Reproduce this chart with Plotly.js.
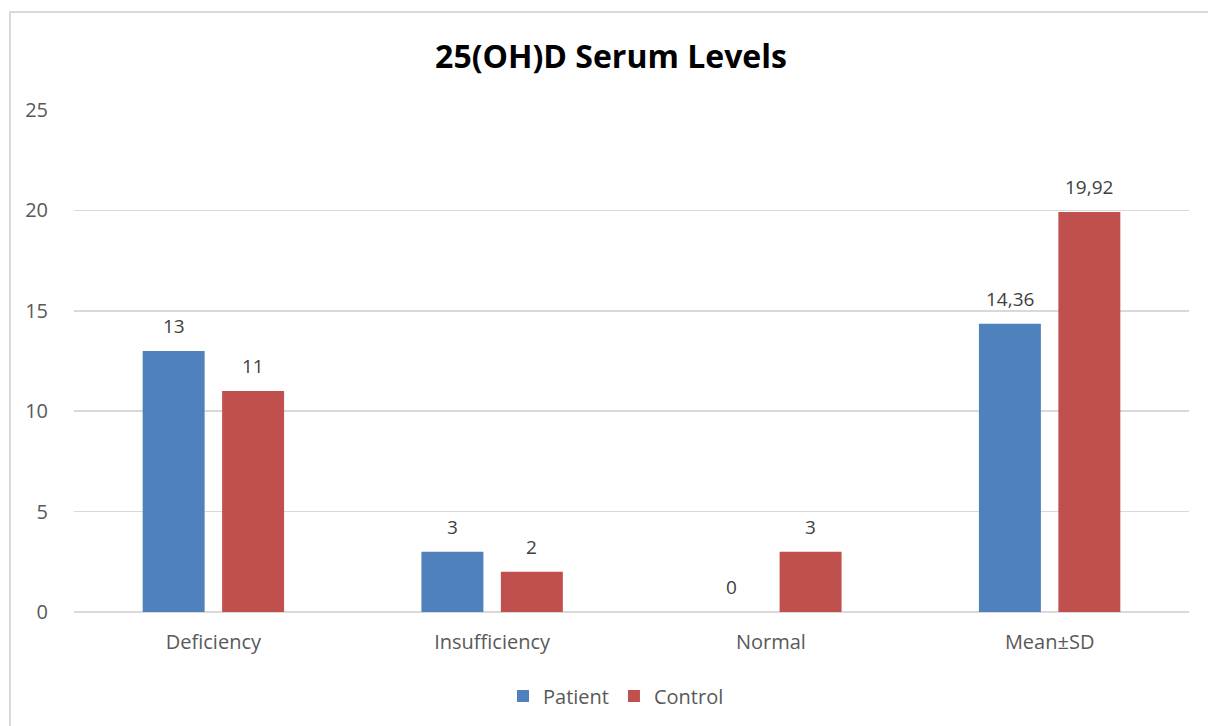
<!DOCTYPE html>
<html>
<head>
<meta charset="utf-8">
<script src="https://cdn.plot.ly/plotly-3.0.1.min.js"></script>
<style>
html,body{margin:0;padding:0;background:#fff;}
#wrap{position:relative;width:1208px;height:726px;overflow:hidden;}
#frame{position:absolute;left:9px;top:11px;width:1300px;height:800px;border-left:2px solid #d9d9d9;border-top:2px solid #d9d9d9;box-sizing:border-box;pointer-events:none;z-index:2;}
#chart{position:absolute;left:0;top:0;width:1208px;height:726px;}
</style>
</head>
<body>
<div id="wrap"><div id="chart"></div><div id="frame"></div></div>
<script>
const categories = ["Deficiency", "Insufficiency", "Normal", "Mean±SD"];
const patientValues = [13, 3, 0, 14.36];
const controlValues = [11, 2, 3, 19.92];
const seriesNames = ["Patient", "Control"];
const yTicks = [0, 5, 10, 15, 20, 25];

const FONT = "'Open Sans', 'Noto Sans', sans-serif";
const colors = ["#4F81BD", "#C0504D"];
const series = [patientValues, controlValues];

const traces = series.map((vals, i) => ({
  type: "bar",
  name: seriesNames[i],
  x: categories,
  y: vals,
  marker: {color: colors[i]},
  hoverinfo: "skip"
}));

const fmt = v => String(v).replace(".", ",");
const annotations = [];
series.forEach((vals, i) => {
  vals.forEach((v, j) => {
    annotations.push({
      x: categories[j], y: v, xref: "x", yref: "y",
      text: fmt(v), showarrow: false,
      xshift: (i === 0 ? -1 : 1) * 39.75,
      yanchor: "bottom", yshift: 10,
      font: {family: FONT, size: 19, color: "#404040"}
    });
  });
});

const layout = {
  width: 1208, height: 726,
  margin: {l: 74, r: 19, t: 110, b: 114},
  paper_bgcolor: "#fff", plot_bgcolor: "#fff",
  font: {family: FONT, color: "#595959"},
  title: {
    text: "<b>25(OH)D Serum Levels</b>",
    font: {family: FONT, size: 32, color: "#000"},
    x: 611/1208, xanchor: "center", xref: "container",
    y: 1 - 57/726, yanchor: "middle", yref: "container"
  },
  barmode: "group",
  bargap: 0.43,
  bargroupgap: 0.22,
  xaxis: {
    type: "category",
    tickfont: {family: FONT, size: 20, color: "#595959"},
    showgrid: false, showline: false, ticks: "",
    ticklabelstandoff: 16,
    fixedrange: true
  },
  yaxis: {
    range: [0, 25],
    tickvals: yTicks,
    ticktext: yTicks.map(String),
    showgrid: true, gridcolor: "#d9d9d9", gridwidth: 1.5,
    zeroline: true, zerolinecolor: "#d9d9d9", zerolinewidth: 1.5,
    showline: false, ticks: "",
    tickfont: {family: FONT, size: 20, color: "#595959"},
    ticklabelstandoff: 25,
    fixedrange: true
  },
  legend: {
    orientation: "h",
    x: (616 - 74) / 1115, xanchor: "center",
    y: 1 - 696/726, yanchor: "middle", yref: "container",
    font: {family: FONT, size: 20, color: "#595959"},
    itemwidth: 30, tracegroupgap: 0
  },
  annotations: annotations,
  showlegend: true
};

Plotly.newPlot("chart", traces, layout, {displayModeBar: false, staticPlot: true});
</script>
</body>
</html>
